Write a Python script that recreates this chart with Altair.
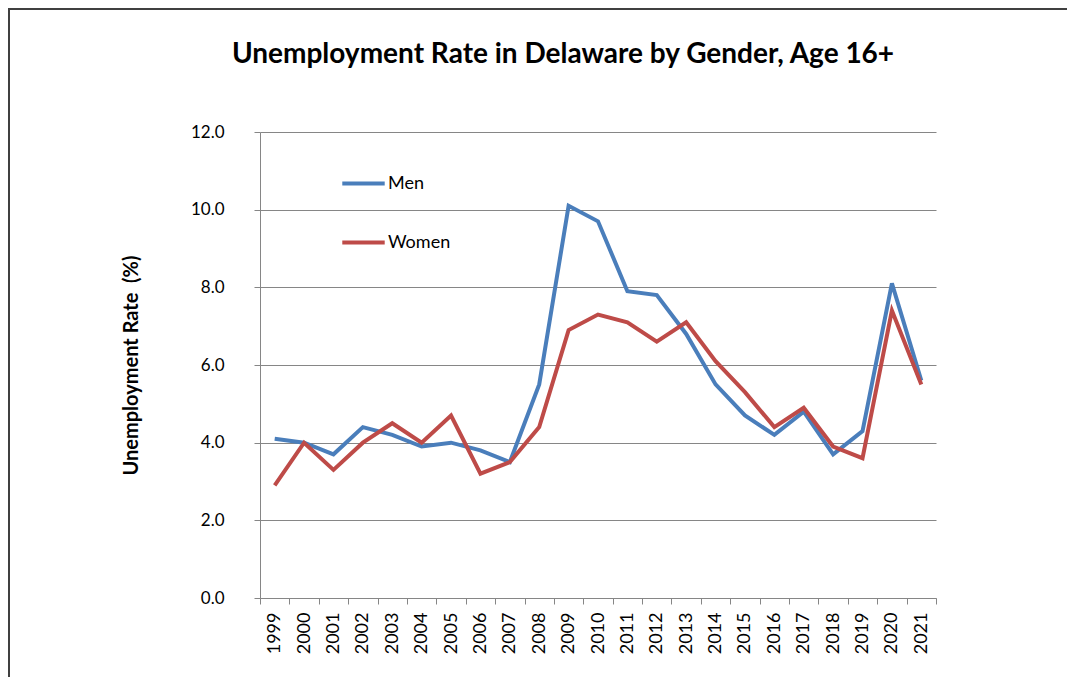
import altair as alt
import pandas as pd

years = [str(y) for y in range(1999, 2022)]
men = [4.1, 4.0, 3.7, 4.4, 4.2, 3.9, 4.0, 3.8, 3.5, 5.5, 10.1, 9.7, 7.9, 7.8, 6.8, 5.5, 4.7, 4.2, 4.8, 3.7, 4.3, 8.1, 5.6]
women = [2.9, 4.0, 3.3, 4.0, 4.5, 4.0, 4.7, 3.2, 3.5, 4.4, 6.9, 7.3, 7.1, 6.6, 7.1, 6.1, 5.3, 4.4, 4.9, 3.9, 3.6, 7.4, 5.5]
series = ["Men", "Women"]
colors = ["#4A7EBB", "#BE4B48"]

rows = []
for i, y in enumerate(years):
    rows.append({"Year": y, "Gender": "Men", "Rate": men[i], "ord": 0})
    rows.append({"Year": y, "Gender": "Women", "Rate": women[i], "ord": 1})
df = pd.DataFrame(rows)

FONT = "Lato"

lines = alt.Chart(df).mark_line(strokeWidth=4, strokeCap="butt", strokeJoin="miter").encode(
    x=alt.X("Year:O", bandPosition=0.5,
            scale=alt.Scale(type="band", paddingInner=0, paddingOuter=0),
            axis=alt.Axis(title=None, labelAngle=270, labelAlign="right", labelBaseline="middle",
                          labelPadding=8, tickBand="extent", tickSize=6, grid=False,
                          labelFontSize=18, labelFont=FONT, labelColor="#000000",
                          domainColor="#868686", tickColor="#868686")),
    y=alt.Y("Rate:Q", scale=alt.Scale(domain=[0, 12], nice=False),
            axis=alt.Axis(title="Unemployment Rate\u00a0\u00a0(%)", values=[0, 2, 4, 6, 8, 10, 12], format=".1f",
                          tickSize=6, labelPadding=30, labelFontSize=17, labelFont=FONT,
                          labelColor="#000000", titleFont=FONT, titleFontSize=20, titleFontWeight="bold",
                          titlePadding=49, titleColor="#000000",
                          gridColor="#868686", domainColor="#868686", tickColor="#868686")),
    color=alt.Color("Gender:N", scale=alt.Scale(domain=series, range=colors),
                    legend=alt.Legend(title=None, orient="none", legendX=80, legendY=28,
                                      symbolType="stroke", symbolSize=1800, symbolStrokeWidth=4,
                                      labelFontSize=18, labelFont=FONT, labelColor="#000000",
                                      labelOffset=1, rowPadding=26, padding=0)),
    order=alt.Order("ord:Q"),
)

frame = alt.Chart(pd.DataFrame({"a": [0]})).mark_rect(fill=None, stroke="#404040", strokeWidth=2).encode(
    x=alt.value(-251), y=alt.value(-123), x2=alt.value(2000), y2=alt.value(2000)
)

chart = alt.layer(frame, lines).properties(
    width=676, height=466,
    autosize=alt.AutoSizeParams(type="none"),
    padding={"left": 252, "top": 124, "right": 131, "bottom": 79},
    title=alt.Title("Unemployment Rate in Delaware by Gender, Age 16+", font=FONT, fontSize=28,
                    fontWeight="bold", color="#000000", offset=0, dy=61, dx=-35, anchor="middle"),
).configure_view(stroke=None).configure_axis(gridWidth=1)

chart.save("out.html", embed_options={"renderer": "svg", "actions": False})
